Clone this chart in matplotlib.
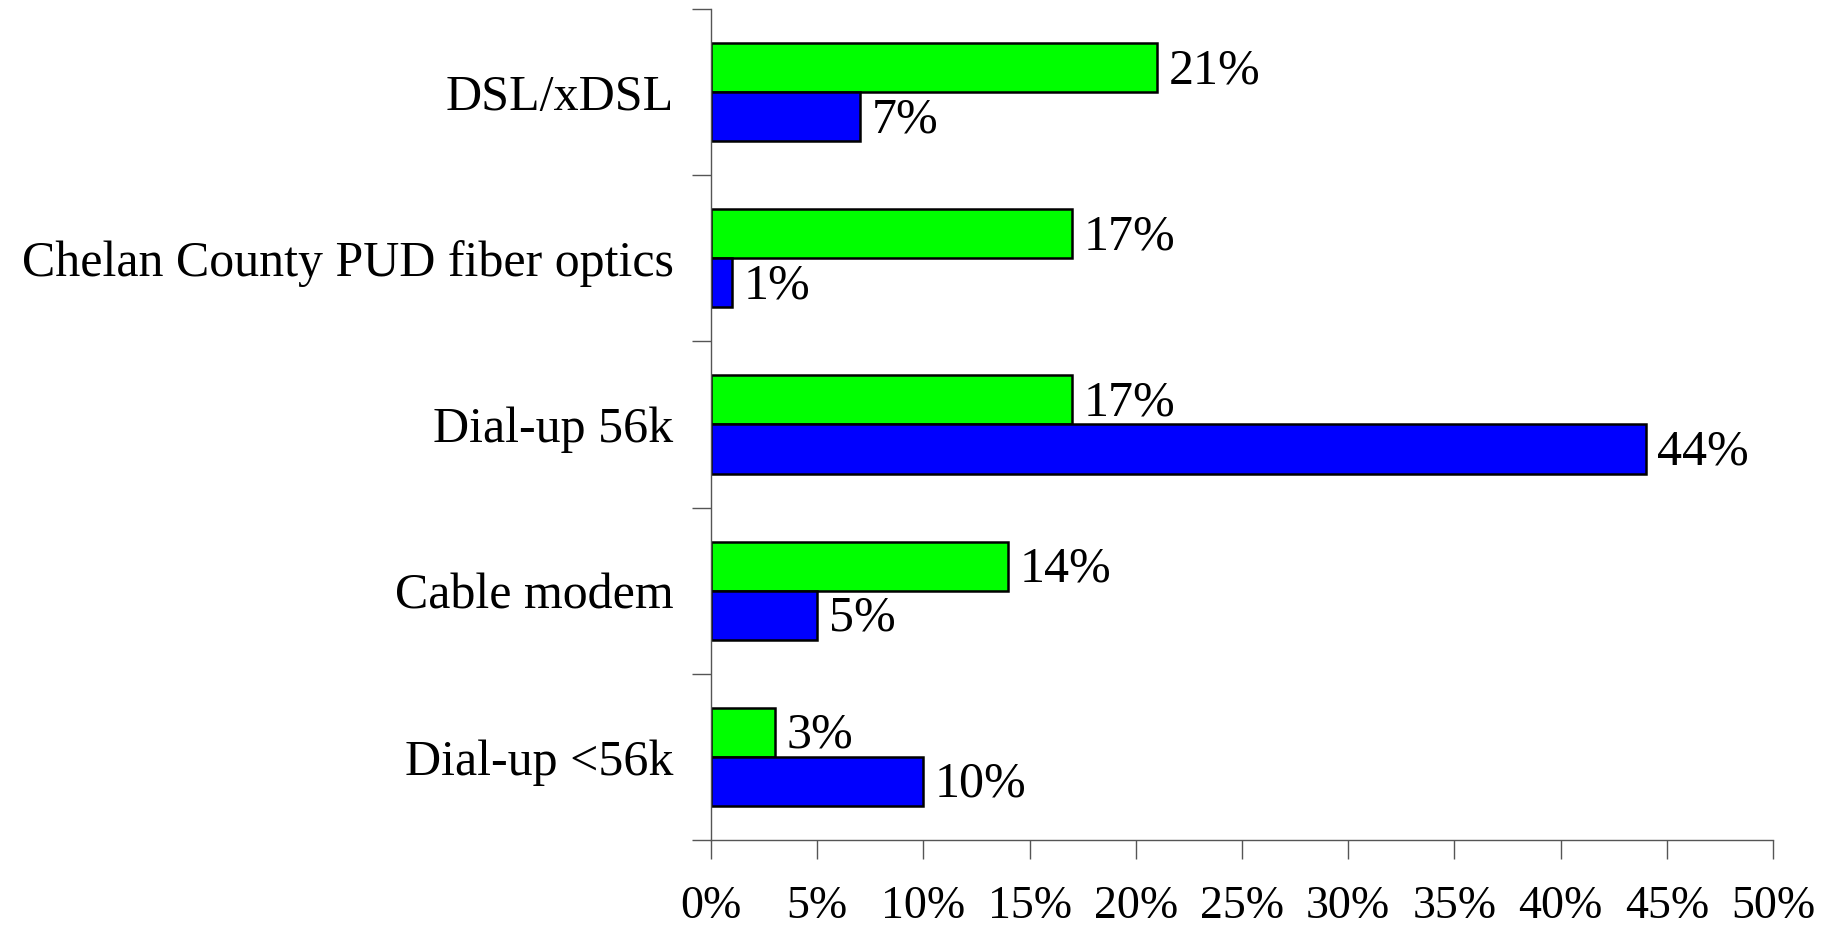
import matplotlib.pyplot as plt
import numpy as np

plt.rcParams['font.family'] = ['Liberation Serif', 'DejaVu Serif']

# 資料
categories = ['DSL/xDSL', 'Chelan County PUD fiber optics', 'Dial-up 56k',
              'Cable modem', 'Dial-up <56k']
green_vals = [21, 17, 17, 14, 3]
blue_vals = [7, 1, 44, 5, 10]
x_ticks = [0, 5, 10, 15, 20, 25, 30, 35, 40, 45, 50]

fig = plt.figure(figsize=(18.3, 9.3), dpi=100)
ax = fig.add_axes([0.3885, 0.0968, 0.5804, 0.8935])

y = np.arange(len(categories))
h = 0.295
ax.barh(y - h / 2, green_vals, height=h, color='#00FF00', edgecolor='black', linewidth=1.8)
ax.barh(y + h / 2, blue_vals, height=h, color='#0000FF', edgecolor='black', linewidth=1.8)

fs = 36
for yi, v in zip(y, green_vals):
    ax.text(v + 0.55, yi - h / 2 + 0.02, f'{v}%', va='center', ha='left', fontsize=fs)
for yi, v in zip(y, blue_vals):
    ax.text(v + 0.55, yi + h / 2 + 0.02, f'{v}%', va='center', ha='left', fontsize=fs)

ax.set_xlim(0, 50)
ax.set_ylim(len(categories) - 0.5, -0.5)

# 分隔刻度放在類別邊界，標籤放在中心
ax.set_yticks(np.arange(len(categories) + 1) - 0.5)
ax.set_yticklabels([])
ax.set_yticks(y, minor=True)
ax.set_yticklabels(categories, minor=True, fontsize=fs)
ax.tick_params(axis='y', which='major', length=14, width=1, color='#555555', direction='out')
ax.tick_params(axis='y', which='minor', length=0, pad=27)

ax.set_xticks(x_ticks)
ax.set_xticklabels([f'{t}%' for t in x_ticks], fontsize=33)
ax.tick_params(axis='x', length=14, width=1, color='#555555', direction='out', pad=19)

for s in ['top', 'right']:
    ax.spines[s].set_visible(False)
for s in ['left', 'bottom']:
    ax.spines[s].set_color('#555555')
    ax.spines[s].set_linewidth(1)

plt.savefig('out.png', dpi=100)
